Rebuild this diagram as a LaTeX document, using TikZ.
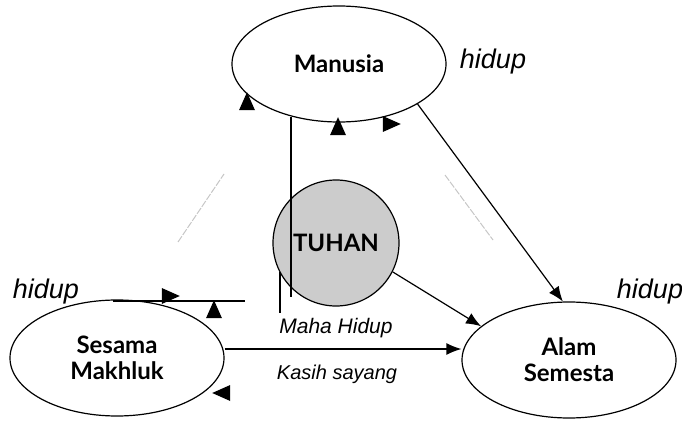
\documentclass[tikz,border=0pt]{standalone}
\usepackage{fontspec}
\setsansfont{Liberation Sans}
\newfontfamily\realmfont{Lato}
\usepackage{tikz}
\usetikzlibrary{positioning}
\usetikzlibrary{shapes.geometric}
\usetikzlibrary{arrows.meta}

\tikzset{
  realm/.style={ellipse, draw, line width=1.2pt, minimum width=214pt,
    minimum height=116pt, inner sep=0pt, align=center,
    font=\realmfont\bfseries\fontsize{24}{26}\selectfont},
  god/.style={circle, draw, line width=1.2pt, fill=gray!40, minimum size=126pt,
    inner sep=0pt, font=\realmfont\bfseries\fontsize{24}{26}\selectfont},
  life/.style={inner sep=0pt, font=\sffamily\itshape\fontsize{27}{30}\selectfont},
  note/.style={inner sep=0pt, font=\sffamily\itshape\fontsize{21}{24}\selectfont},
  tip/.style={isosceles triangle, isosceles triangle stretches, fill=black,
    inner sep=0pt, minimum width=16pt, minimum height=18pt, shape border rotate=#1},
  link/.style={line width=1.2pt, -{Latex[length=15pt,width=12pt]}},
  faint/.style={draw=gray!45, line width=1pt, dash pattern=on 7pt off 1.5pt}
}

\begin{document}
\begin{tikzpicture}[x=1pt, y=-1pt]
    \useasboundingbox (0,0) rectangle (682,422);

    % Define nodes
    \node[realm] (man)   at (339,64)  {Manusia};
    \node[god]   (tuhan) at (336,243) {TUHAN};
    \node[realm] (ses)   at (117,358) {Sesama\\Makhluk};
    \node[realm] (alam)  at (569,360) {Alam\\Semesta};

    \node[life] (hman)  at (493,62)  {hidup};
    \node[life] (hses)  at (46,292)  {hidup};
    \node[life] (halam) at (650,292) {hidup};
    \node[note] (maha)  at (336,328) {Maha Hidup};
    \node[note, font=\sffamily\itshape\fontsize{20}{22}\selectfont]
                (kasih) at (337,374) {Kasih sayang};

    % Loose arrow tips
    \node[tip=55]  (t1) at (247,105) {};
    \node[tip=90]  (t2) at (338,130) {};
    \node[tip=-30] (t3) at (388,124) {};
    \node[tip=15]  (t4) at (167,296) {};
    \node[tip=100] (t5) at (214,313) {};
    \node[tip=180] (t6) at (225,393) {};

    \coordinate (v1) at (291,117);
    \coordinate (v2) at (291,297);
    \coordinate (v3) at (280,272);
    \coordinate (v4) at (280,313);
    \coordinate (h1) at (113,301);
    \coordinate (h2) at (245,301);
    \coordinate (f1) at (178,242);
    \coordinate (f2) at (224,174);
    \coordinate (f3) at (445,175);
    \coordinate (f4) at (493,240);

    % Connect the nodes
    \draw[link] ([yshift=9pt]ses.east) -- ([yshift=11pt]alam.west);
    \draw[link] (tuhan.-27) -- (alam.159);
    \draw[link] (man.-27) -- (alam.96);
    \draw[line width=1.2pt] (v1) -- (v2);
    \draw[line width=1.2pt] (v3) -- (v4);
    \draw[line width=1.2pt] (h1) -- (h2);
    \draw[faint] (f1) -- (f2);
    \draw[faint] (f3) -- (f4);
  \end{tikzpicture}
\end{document}
